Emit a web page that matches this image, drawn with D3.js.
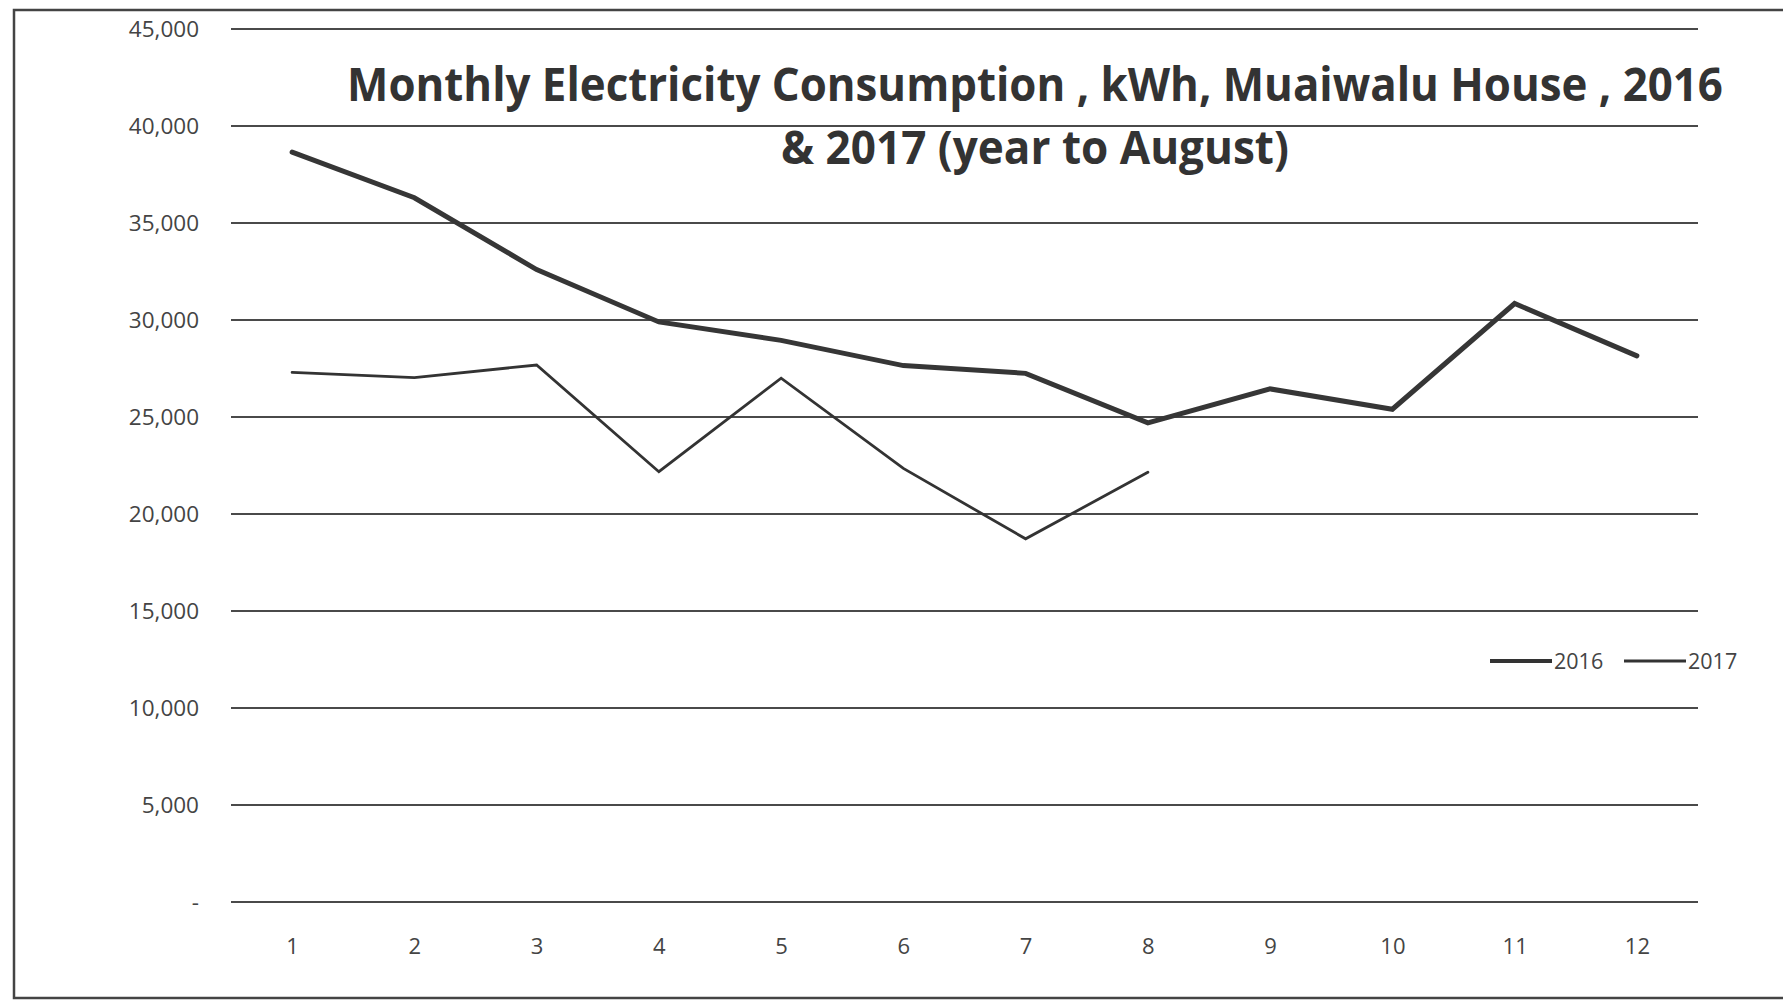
<!DOCTYPE html>
<html>
<head>
<meta charset="utf-8">
<script src="https://cdn.jsdelivr.net/npm/d3@7"></script>
<style>
  html, body { margin: 0; padding: 0; background: #fff; }
  svg { display: block; }
</style>
</head>
<body>
<svg id="chart" width="1783" height="1001"></svg>
<script>
// ---- data ----
const months = [1, 2, 3, 4, 5, 6, 7, 8, 9, 10, 11, 12];
const series2016 = [38650, 36300, 32600, 29900, 28950, 27650, 27250, 24700, 26450, 25400, 30850, 28150];
const series2017 = [27300, 27030, 27680, 22180, 27000, 22350, 18720, 22150];
const yTicks = [0, 5000, 10000, 15000, 20000, 25000, 30000, 35000, 40000, 45000];
const seriesNames = ["2016", "2017"];
const titleLines = ["Monthly Electricity Consumption , kWh, Muaiwalu House , 2016", "& 2017 (year to August)"];

// ---- layout ----
const W = 1783, H = 1001;
const plot = { left: 231, right: 1698, top: 29, bottom: 902 };
const svg = d3.select("#chart");
const font = "'Open Sans', 'Liberation Sans', sans-serif";

// frame
svg.append("path")
  .attr("d", `M${W + 5},10 L14,10 L14,998 L${W + 5},998`)
  .attr("fill", "none").attr("stroke", "#444").attr("stroke-width", 2.5);

const x = d3.scalePoint().domain(months).range([plot.left, plot.right]).padding(0.5);
const y = d3.scaleLinear().domain([0, 45000]).range([plot.bottom, plot.top]);

// gridlines
svg.append("g").selectAll("line").data(yTicks).join("line")
  .attr("x1", plot.left).attr("x2", plot.right)
  .attr("y1", d => y(d)).attr("y2", d => y(d))
  .attr("stroke", "#4a4a4a").attr("stroke-width", 2);

// y axis
const yAxis = d3.axisLeft(y).tickValues(yTicks).tickSize(0).tickPadding(32)
  .tickFormat(d => d === 0 ? "-" : d3.format(",")(d));
const gy = svg.append("g").attr("transform", `translate(${plot.left},0)`).call(yAxis);
gy.select(".domain").remove();
gy.selectAll("text").attr("font-family", font).attr("font-size", 22.5).attr("fill", "#444");

// x axis
const xAxis = d3.axisBottom(x).tickSize(0).tickPadding(36);
const gx = svg.append("g").attr("transform", `translate(0,${plot.bottom})`).call(xAxis);
gx.select(".domain").remove();
gx.selectAll("text").attr("font-family", font).attr("font-size", 22).attr("fill", "#444");

// lines
const line = d3.line().x((d, i) => x(months[i])).y(d => y(d));
svg.append("path").datum(series2016).attr("d", line)
  .attr("fill", "none").attr("stroke", "#363636").attr("stroke-width", 5)
  .attr("stroke-linejoin", "miter").attr("stroke-linecap", "round");
svg.append("path").datum(series2017).attr("d", line)
  .attr("fill", "none").attr("stroke", "#333").attr("stroke-width", 2.8)
  .attr("stroke-linejoin", "miter").attr("stroke-linecap", "round");

// legend
const legend = [
  { name: seriesNames[0], x1: 1490, x2: 1552, tx: 1554, w: 4 },
  { name: seriesNames[1], x1: 1624, x2: 1686, tx: 1688, w: 3.2 }
];
const lg = svg.append("g");
legend.forEach(l => {
  lg.append("line").attr("x1", l.x1).attr("x2", l.x2).attr("y1", 661).attr("y2", 661)
    .attr("stroke", "#333").attr("stroke-width", l.w);
  lg.append("text").attr("x", l.tx).attr("y", 669).text(l.name)
    .attr("font-family", font).attr("font-size", 21.5).attr("fill", "#444");
});

// title (horizontally condensed to mimic the narrow original face)
const titleSpecs = [
  { text: titleLines[0], y: 101, width: 1376 },
  { text: titleLines[1], y: 164, width: 508 }
];
titleSpecs.forEach(t => {
  const g = svg.append("g");
  const txt = g.append("text").attr("x", 0).attr("y", 0).attr("text-anchor", "middle")
    .attr("font-family", font).attr("font-weight", "bold").attr("font-size", 47)
    .attr("fill", "#333")
    .text(t.text);
  const natural = txt.node().getComputedTextLength();
  const sx = natural > 0 ? t.width / natural : 1;
  g.attr("transform", `translate(1035,${t.y}) scale(${sx},1)`);
});
</script>
</body>
</html>
